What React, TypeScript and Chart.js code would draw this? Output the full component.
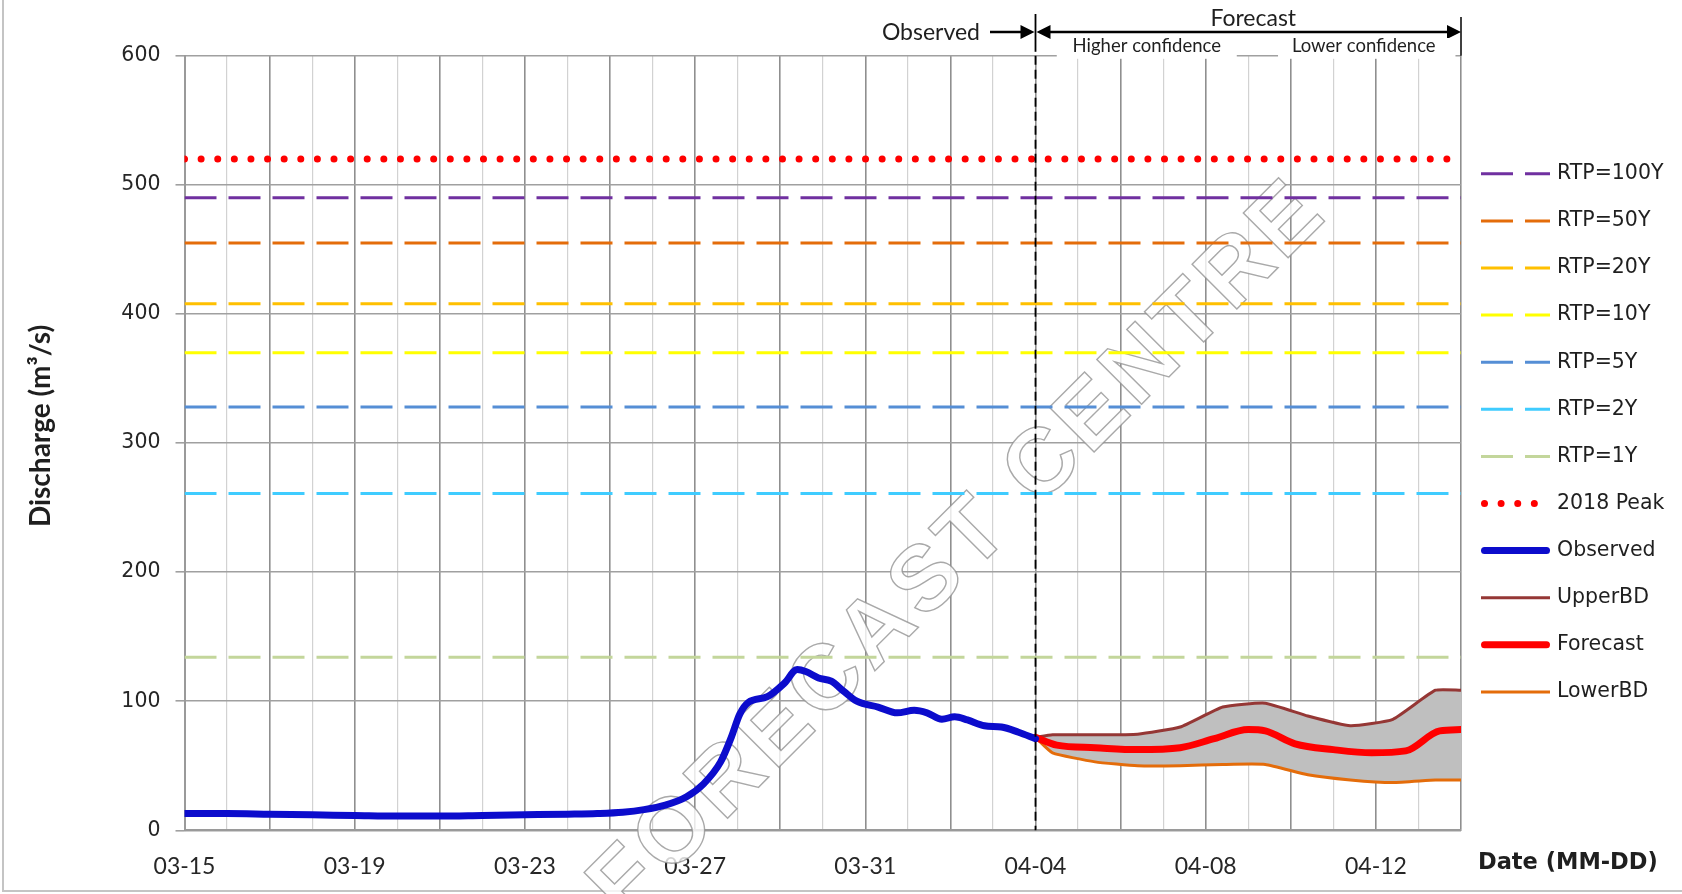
import React, { useEffect, useRef } from 'react';
import { Chart, registerables } from 'chart.js';

Chart.register(...registerables);

// ---------- data ----------
const xTickLabels = ['03-15', '03-19', '03-23', '03-27', '03-31', '04-04', '04-08', '04-12'];
const dayCount = 30; // 03-15 .. 04-14
const labelEvery = 4;
const forecastStartDay = 20; // 04-04

const thresholdNames = ['RTP=100Y', 'RTP=50Y', 'RTP=20Y', 'RTP=10Y', 'RTP=5Y', 'RTP=2Y', 'RTP=1Y'];
const thresholdValues = [490, 455, 408, 370, 328, 261, 134];
const thresholdColors = ['#7030a0', '#e46c0a', '#ffc000', '#ffff00', '#558ed5', '#3fccff', '#c3d69b'];
const peak2018Value = 520;

const obsDays = [0, 1, 2, 3, 4, 5, 6, 7, 8, 9, 9.7, 10.3, 10.8, 11.3, 11.8, 12.2, 12.6, 12.85, 13.05, 13.25, 13.7, 14.1, 14.4, 14.6, 14.9, 15.2, 15.5, 15.8, 16.3, 16.75, 17.15, 17.45, 17.8, 18.1, 18.4, 18.8, 19.2, 19.6, 20];
const obsValues = [13, 13, 12.5, 12, 11.5, 11, 11, 11.5, 12, 12.5, 13, 14, 16, 19.5, 26, 36, 53, 72, 90, 99, 103.5, 114, 124.5, 123, 118, 115.5, 107.5, 100, 95.5, 91, 93, 91, 86, 88, 85.5, 81, 80, 76, 71];

const fcDays = [20, 20.5, 21.4, 22.4, 23.4, 24.2, 25.0, 25.4, 26.1, 27.0, 27.9, 28.7, 29.5, 30];
const fcValues = [72, 66, 64, 62.5, 64, 71, 78, 77, 67, 62.5, 60, 61.5, 77, 78];

const bdDays = [20, 20.4, 21.4, 22.4, 23.4, 24.4, 25.4, 26.4, 27.4, 28.4, 29.4, 30];
const upperValues = [72, 74, 74, 74.5, 80, 95.5, 98.5, 88.5, 81, 86, 108.5, 108.5];
const lowerValues = [72, 60, 53, 50, 50, 51, 51, 43, 39, 37, 39, 39];

const pts = (xs: number[], ys: number[]) => xs.map((x, i) => ({ x, y: ys[i] }));
const flat = (v: number) => [{ x: 0, y: v }, { x: dayCount, y: v }];

function buildDatasets() {
  const ds: any[] = [];
  thresholdNames.forEach((n, i) => {
    ds.push({
      label: n, data: flat(thresholdValues[i]), borderColor: thresholdColors[i], borderWidth: 3,
      borderDash: [32, 12], pointRadius: 0, order: 6, fill: false,
    });
  });
  ds.push({
    label: '2018 Peak', data: flat(peak2018Value), borderColor: '#ff0000', borderWidth: 7,
    borderDash: [0.01, 16.6], borderCapStyle: 'round', pointRadius: 0, order: 6, fill: false,
  });
  ds.push({
    label: 'Observed', data: pts(obsDays, obsValues), borderColor: '#0c0ccc', borderWidth: 7,
    borderCapStyle: 'round', borderJoinStyle: 'round', cubicInterpolationMode: 'monotone',
    pointRadius: 0, order: 1, fill: false,
  });
  const upperIndex = ds.length;
  ds.push({
    label: 'UpperBD', data: pts(bdDays, upperValues), borderColor: '#953735', borderWidth: 3,
    tension: 0.15, pointRadius: 0, order: 4, fill: upperIndex + 2, backgroundColor: '#bfbfbf',
  });
  ds.push({
    label: 'Forecast', data: pts(fcDays, fcValues), borderColor: '#ff0000', borderWidth: 7,
    borderCapStyle: 'round', borderJoinStyle: 'round', cubicInterpolationMode: 'monotone',
    pointRadius: 0, order: 1, fill: false,
  });
  ds.push({
    label: 'LowerBD', data: pts(bdDays, lowerValues), borderColor: '#e46c0a', borderWidth: 3,
    tension: 0.15, pointRadius: 0, order: 3, fill: false,
  });
  return ds;
}

const TXT = '#1f1f1f';

function arrowHead(ctx: CanvasRenderingContext2D, tipX: number, y: number, dir: number) {
  ctx.beginPath();
  ctx.moveTo(tipX, y);
  ctx.lineTo(tipX - dir * 14, y - 7);
  ctx.lineTo(tipX - dir * 14, y + 7);
  ctx.closePath();
  ctx.fill();
}

const extras = {
  id: 'extras',
  beforeDraw(chart: any) {
    const ctx = chart.ctx as CanvasRenderingContext2D;
    ctx.save();
    ctx.fillStyle = '#ffffff';
    ctx.fillRect(0, 0, chart.width, chart.height);
    ctx.strokeStyle = '#c4c4c4';
    ctx.lineWidth = 2;
    ctx.beginPath();
    ctx.moveTo(3, 0);
    ctx.lineTo(3, 891);
    ctx.lineTo(chart.width, 891);
    ctx.stroke();
    ctx.restore();
  },
  beforeDatasetsDraw(chart: any) {
    const ctx = chart.ctx as CanvasRenderingContext2D;
    ctx.save();
    ctx.translate(960, 550);
    ctx.rotate(-Math.PI / 4);
    ctx.font = 'bold 92px "Liberation Sans", Arial, sans-serif';
    (ctx as any).letterSpacing = '6px';
    ctx.textAlign = 'center';
    ctx.textBaseline = 'middle';
    ctx.fillStyle = 'rgba(255,255,255,0.8)';
    ctx.fillText('FORECAST CENTRE', 0, 0);
    ctx.strokeStyle = 'rgba(140,140,140,0.75)';
    ctx.lineWidth = 1.4;
    ctx.strokeText('FORECAST CENTRE', 0, 0);
    ctx.restore();
  },
  afterDatasetsDraw(chart: any) {
    const ctx = chart.ctx as CanvasRenderingContext2D;
    const area = chart.chartArea;
    const xs = chart.scales.x;
    const sepX = xs.getPixelForValue(forecastStartDay);
    const rightX = area.right;

    ctx.save();
    // separator
    ctx.strokeStyle = '#000';
    ctx.lineWidth = 1.8;
    ctx.beginPath();
    ctx.moveTo(sepX, 14);
    ctx.lineTo(sepX, area.top - 4);
    ctx.stroke();
    ctx.setLineDash([9, 5]);
    ctx.beginPath();
    ctx.moveTo(sepX, area.top);
    ctx.lineTo(sepX, area.bottom);
    ctx.stroke();
    ctx.setLineDash([]);
    // right end line
    ctx.lineWidth = 1.5;
    ctx.beginPath();
    ctx.moveTo(rightX, 17);
    ctx.lineTo(rightX, area.top);
    ctx.stroke();

    // arrows
    const ay = 32;
    ctx.fillStyle = '#000';
    ctx.lineWidth = 2.5;
    ctx.beginPath();
    ctx.moveTo(990, ay);
    ctx.lineTo(sepX - 10, ay);
    ctx.stroke();
    arrowHead(ctx, sepX - 1, ay, 1);
    ctx.beginPath();
    ctx.moveTo(sepX + 10, ay);
    ctx.lineTo(rightX - 10, ay);
    ctx.stroke();
    arrowHead(ctx, sepX + 1, ay, -1);
    arrowHead(ctx, rightX, ay, 1);

    // texts
    ctx.fillStyle = TXT;
    ctx.font = '23px Lato, sans-serif';
    ctx.textBaseline = 'alphabetic';
    ctx.textAlign = 'right';
    ctx.fillText('Observed', 980, 40);
    ctx.textAlign = 'center';
    ctx.fillText('Forecast', (sepX + rightX) / 2 + 5, 26);

    // white boxes + sub labels
    const span = rightX - sepX;
    const boxes = [
      { text: 'Higher confidence', l: sepX + 0.05 * span, r: sepX + 0.473 * span },
      { text: 'Lower confidence', l: sepX + 0.570 * span, r: sepX + 0.987 * span },
    ];
    ctx.font = '18.5px Lato, sans-serif';
    boxes.forEach((b, i) => {
      ctx.fillStyle = '#ffffff';
      ctx.fillRect(b.l, 38, b.r - b.l, area.top + 3 - 38);
      ctx.fillStyle = TXT;
      ctx.fillText(b.text, (b.l + b.r) / 2 - (i === 1 ? 3 : 0), 52);
    });

    // axis titles
    ctx.save();
    ctx.translate(41, 426);
    ctx.rotate(-Math.PI / 2);
    ctx.font = 'bold 28px Lato, sans-serif';
    ctx.textAlign = 'center';
    ctx.textBaseline = 'middle';
    ctx.fillStyle = TXT;
    ctx.fillText('Discharge (m³/s)', 0, 0);
    ctx.restore();

    ctx.font = 'bold 22.5px "DejaVu Sans", sans-serif';
    ctx.textAlign = 'left';
    ctx.textBaseline = 'alphabetic';
    ctx.fillStyle = TXT;
    ctx.fillText('Date (MM-DD)', rightX + 17, 869);

    // legend
    const lx0 = rightX + 20;
    const lx1 = rightX + 89;
    const ly0 = area.top + 118;
    const step = 47.1;
    chart.data.datasets.forEach((d: any, k: number) => {
      const y = ly0 + k * step;
      ctx.save();
      ctx.strokeStyle = d.borderColor;
      ctx.lineWidth = d.borderWidth;
      ctx.lineCap = d.borderCapStyle || 'butt';
      ctx.setLineDash(d.borderDash || []);
      const inset = d.borderCapStyle === 'round' ? d.borderWidth / 2 : 0;
      ctx.beginPath();
      ctx.moveTo(lx0 + inset, y);
      ctx.lineTo(lx1 - inset, y);
      ctx.stroke();
      ctx.restore();
      ctx.font = '20.5px "DejaVu Sans", sans-serif';
      ctx.textAlign = 'left';
      ctx.textBaseline = 'middle';
      ctx.fillStyle = TXT;
      ctx.fillText(d.label, rightX + 96, y);
    });
    ctx.restore();
  },
};

export default function App() {
  const ref = useRef<HTMLCanvasElement>(null);
  useEffect(() => {
    document.body.style.margin = '0';
    const chart = new Chart(ref.current as HTMLCanvasElement, {
      type: 'line',
      data: { datasets: buildDatasets() },
      options: {
        animation: false,
        responsive: true,
        maintainAspectRatio: false,
        layout: { padding: { top: 55.8, right: 221, bottom: 0, left: 0 } },
        plugins: { legend: { display: false }, tooltip: { enabled: false }, title: { display: false } },
        scales: {
          x: {
            type: 'linear',
            min: 0,
            max: dayCount,
            afterBuildTicks: (s: any) => {
              s.ticks = Array.from({ length: dayCount + 1 }, (_, i) => ({ value: i }));
            },
            afterFit: (s: any) => { s.height = 63.7; },
            ticks: {
              autoSkip: false,
              maxRotation: 0,
              padding: 22,
              color: '#262626',
              font: { family: 'Lato', size: 23 },
              callback: (v: any) => (Number(v) % labelEvery === 0 ? xTickLabels[Number(v) / labelEvery] ?? '' : ''),
            },
            grid: {
              drawTicks: false,
              color: (c: any) => (c.tick && c.tick.value % 2 === 0 ? '#8f8f8f' : '#d2d2d2'),
              lineWidth: (c: any) => (c.tick && c.tick.value % 2 === 0 ? 1.6 : 1.2),
            },
            border: { color: '#9a9a9a', width: 2 },
          },
          y: {
            type: 'linear',
            min: 0,
            max: 600,
            afterBuildTicks: (s: any) => {
              s.ticks = [0, 100, 200, 300, 400, 500, 600].map((v) => ({ value: v }));
            },
            afterFit: (s: any) => { s.width = 184.5; },
            ticks: {
              padding: 15,
              color: '#262626',
              font: { family: 'DejaVu Sans', size: 20.5 },
            },
            grid: { color: '#a0a0a0', lineWidth: 1.6, tickLength: 9, tickColor: '#a0a0a0' },
            border: { color: '#9a9a9a', width: 2 },
          },
        },
      },
      plugins: [extras],
    } as any);
    return () => chart.destroy();
  }, []);
  return (
    <div style={{ width: 1682, height: 894, position: 'relative' }}>
      <canvas ref={ref} />
    </div>
  );
}
